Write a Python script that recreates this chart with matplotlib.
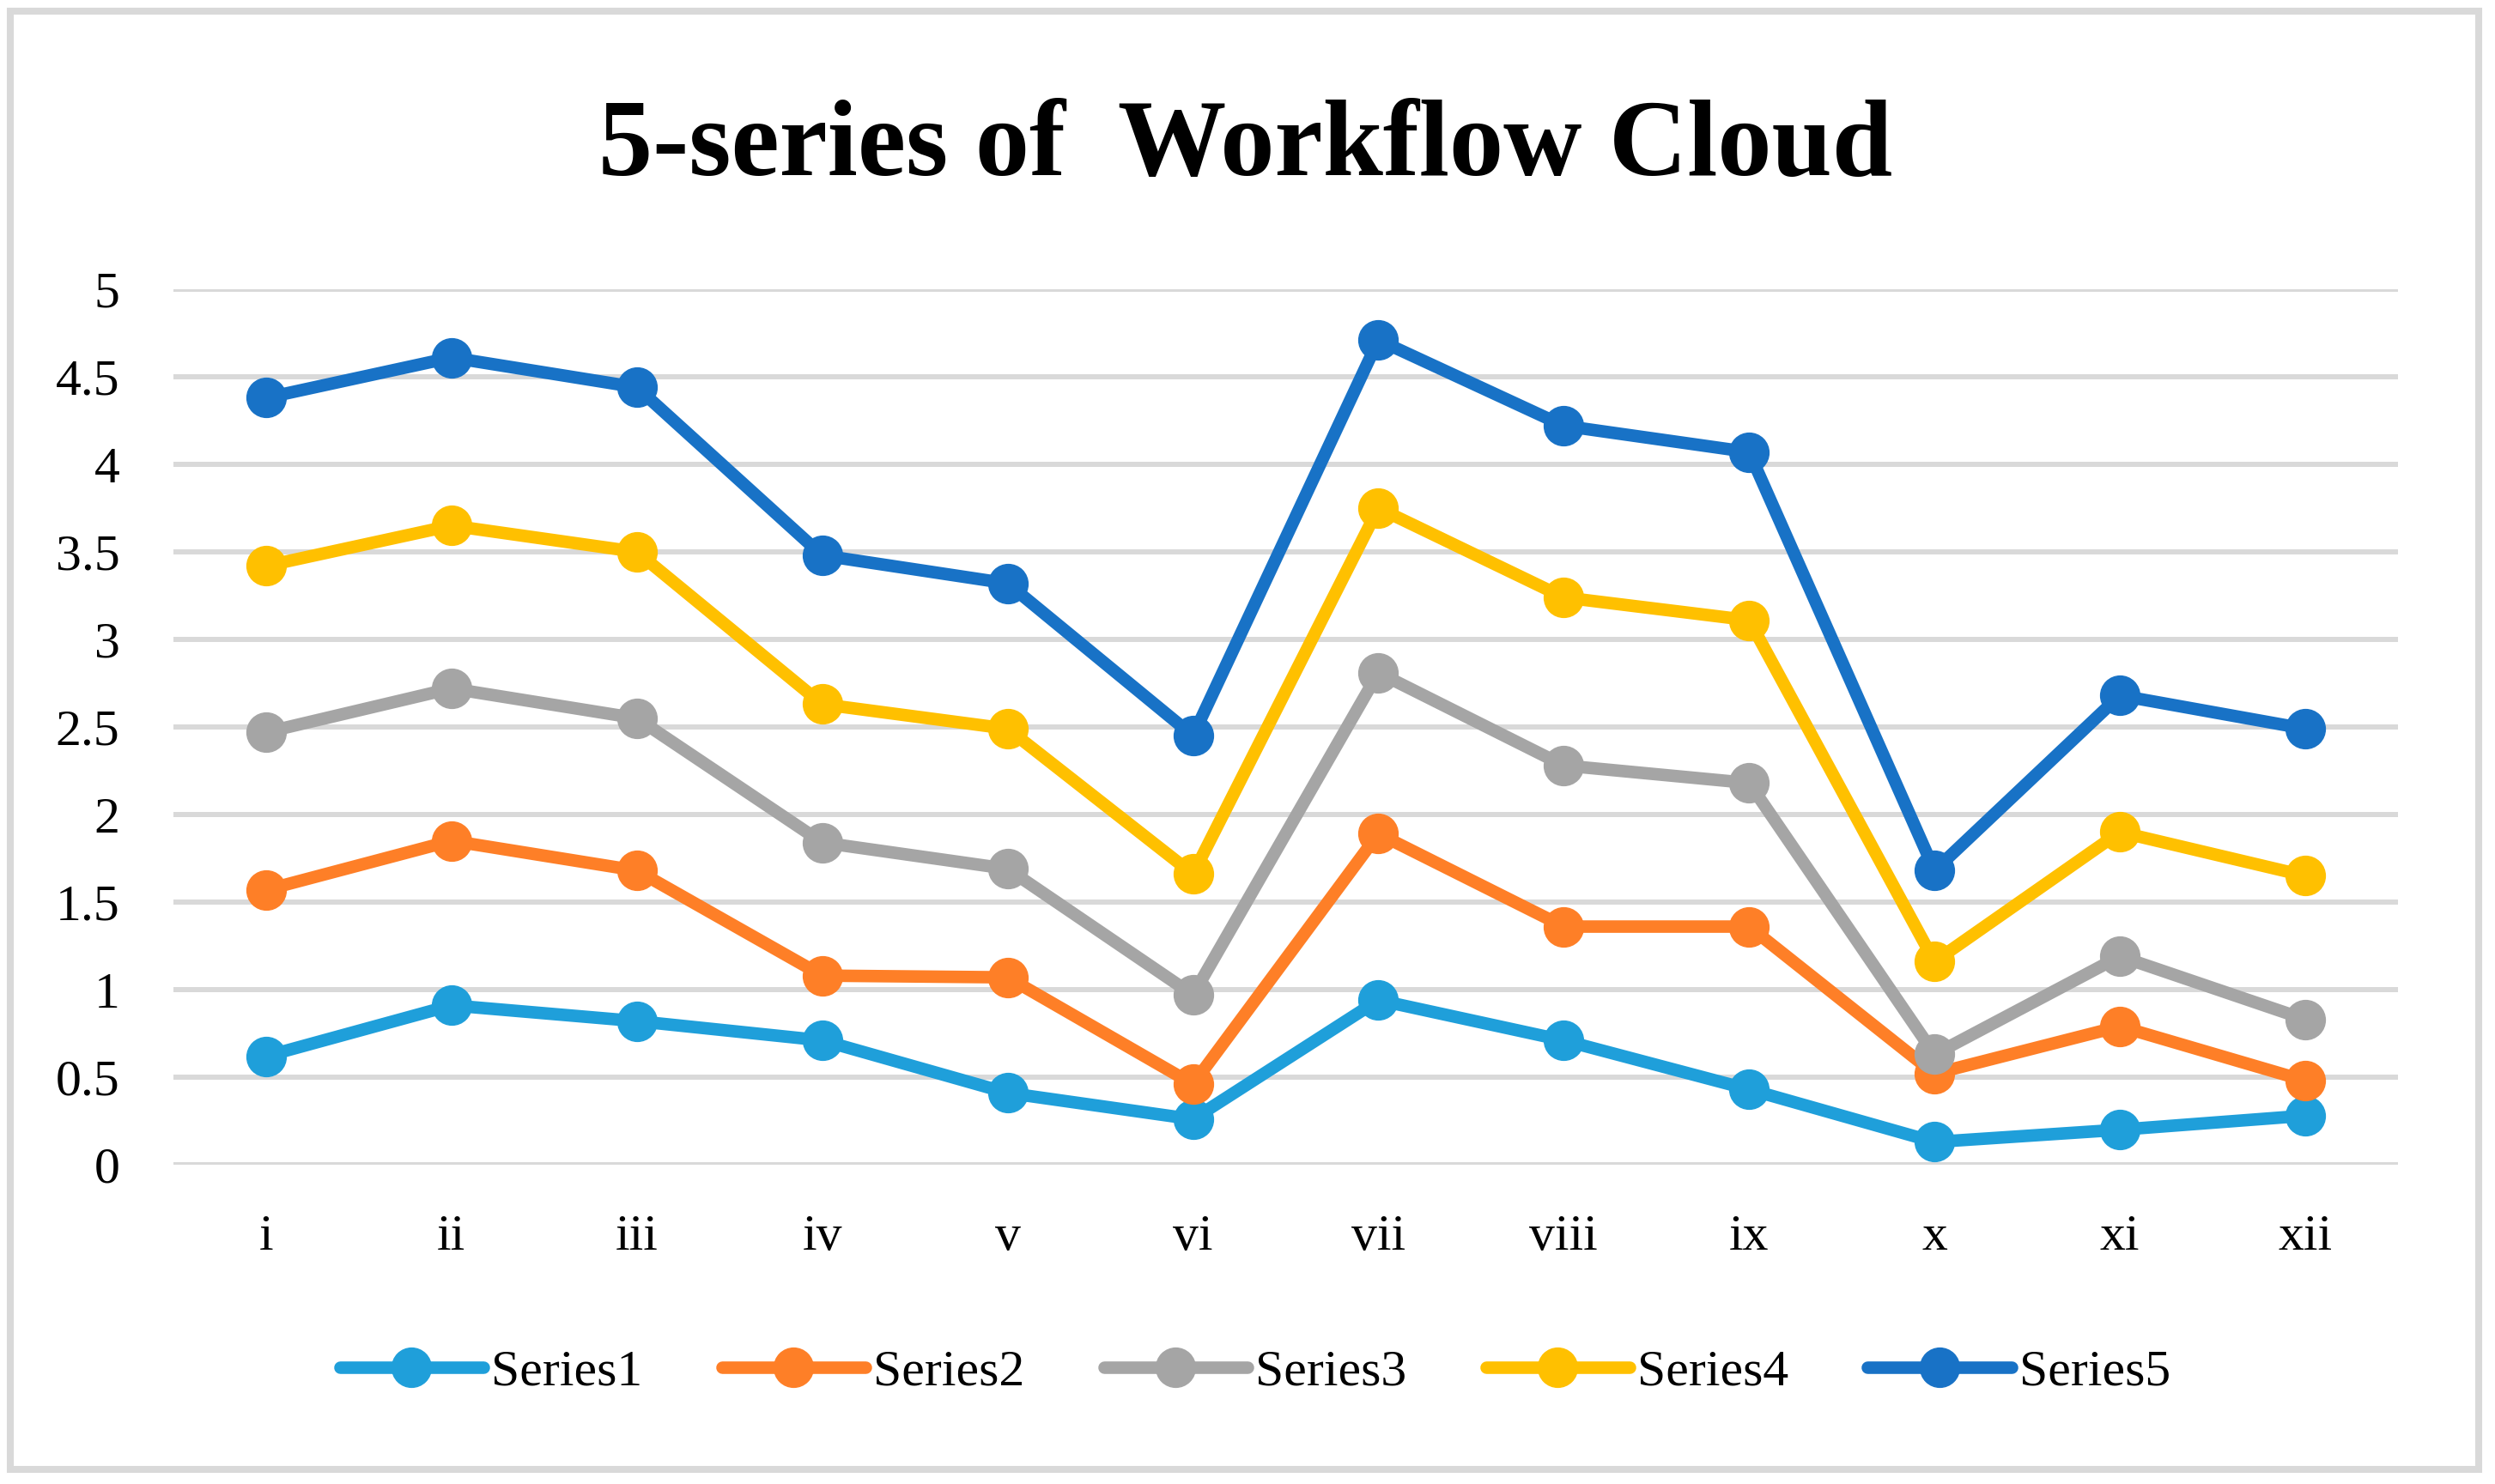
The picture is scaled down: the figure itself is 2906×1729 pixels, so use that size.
import matplotlib
matplotlib.use("Agg")
import matplotlib.pyplot as plt
from matplotlib.patches import Rectangle

categories = ["i", "ii", "iii", "iv", "v", "vi", "vii", "viii", "ix", "x", "xi", "xii"]
series1 = [0.62, 0.91, 0.82, 0.71, 0.41, 0.26, 0.94, 0.71, 0.43, 0.13, 0.20, 0.28]
series2 = [1.57, 1.85, 1.68, 1.08, 1.07, 0.46, 1.89, 1.36, 1.36, 0.52, 0.79, 0.48]
series3 = [2.47, 2.72, 2.55, 1.84, 1.69, 0.97, 2.81, 2.28, 2.18, 0.63, 1.19, 0.83]
series4 = [3.42, 3.65, 3.50, 2.63, 2.49, 1.66, 3.75, 3.24, 3.11, 1.16, 1.90, 1.65]
series5 = [4.38, 4.61, 4.44, 3.48, 3.32, 2.45, 4.71, 4.22, 4.07, 1.68, 2.68, 2.49]
series_names = ["Series1", "Series2", "Series3", "Series4", "Series5"]
colors = ["#1F9FDA", "#FE7F27", "#A5A5A5", "#FFC000", "#1872C6"]
yticks = [0, 0.5, 1, 1.5, 2, 2.5, 3, 3.5, 4, 4.5, 5]
ytick_labels = ["0", "0.5", "1", "1.5", "2", "2.5", "3", "3.5", "4", "4.5", "5"]
title = "5-series of  Workflow Cloud"

font = "Liberation Serif"
W, H = 2906, 1729
fig = plt.figure(figsize=(W / 100, H / 100), dpi=100)
fig.patch.set_facecolor("white")

# outer border
fig.patches.append(Rectangle((12 / W, 1 - 1712 / H), (2887 - 12) / W, (1712 - 13) / H,
                             transform=fig.transFigure, fill=False,
                             edgecolor="#D9D9D9", linewidth=5.8, zorder=0))

ax = fig.add_axes([202 / W, 1 - 1357 / H, (2793 - 202) / W, (1357 - 337) / H])
x = list(range(len(categories)))
for data, name, c in zip([series1, series2, series3, series4, series5], series_names, colors):
    ax.plot(x, data, color=c, linewidth=10.5, marker="o", markersize=33,
            solid_capstyle="round", label=name, clip_on=False, zorder=3)

ax.set_xlim(-0.5, len(categories) - 0.5)
ax.set_ylim(0, 5)
ax.set_yticks(yticks)
ax.set_yticklabels(ytick_labels, fontfamily=font, fontsize=43)
ax.set_xticks(x)
ax.set_xticklabels(categories, fontfamily=font, fontsize=43)
ax.tick_params(axis="both", length=0)
ax.tick_params(axis="y", pad=45)
ax.tick_params(axis="x", pad=42)
ax.grid(axis="y", color="#D9D9D9", linewidth=4.3, zorder=0)
ax.set_axisbelow(True)
for s in ax.spines.values():
    s.set_visible(False)

fig.text(0.499, 1 - 204 / H, title, ha="center", va="baseline",
         fontfamily=font, fontweight="bold", fontsize=91)

handles, labels = ax.get_legend_handles_labels()
leg = fig.legend(handles, labels, loc="center", bbox_to_anchor=(0.503, 1 - 1599 / H),
                 ncol=5, frameon=False, prop={"family": font, "size": 43},
                 handlelength=2.8, handletextpad=0.15, columnspacing=1.55)

fig.savefig("out.png", dpi=100, facecolor="white")
